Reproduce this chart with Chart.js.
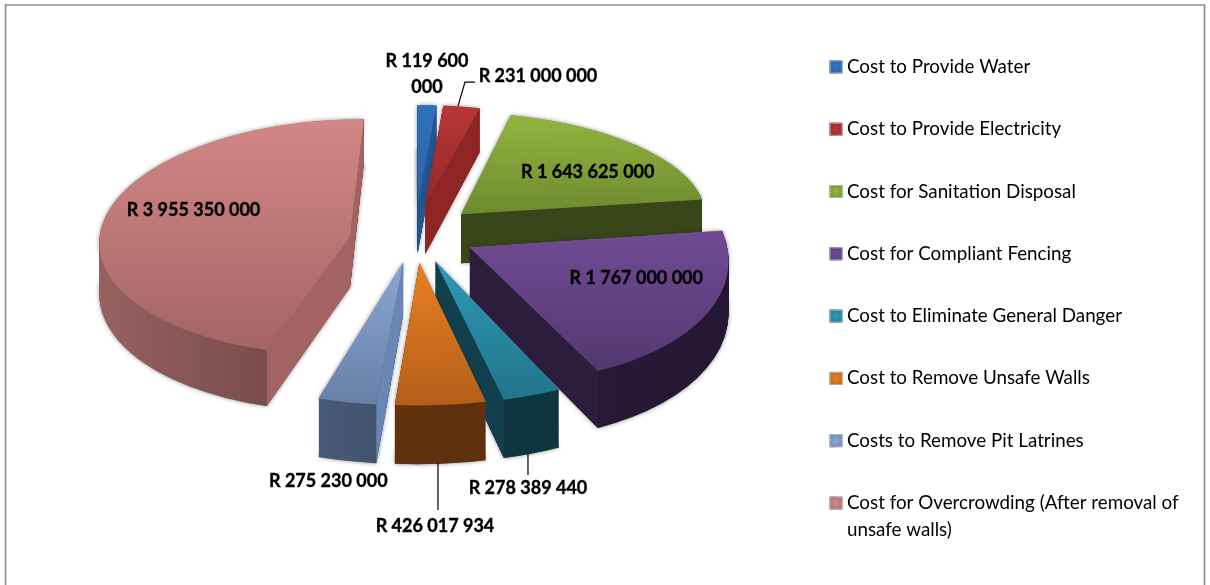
<!DOCTYPE html>
<html><head><meta charset="utf-8">
<style>html,body{margin:0;padding:0;background:#fff}#w{width:1210px;height:585px}</style>
<script src="https://cdn.jsdelivr.net/npm/chart.js@4/dist/chart.umd.min.js"></script>
</head><body><div id="w"><canvas id="c"></canvas></div>
<script>
const categories = [
  "Cost to Provide Water",
  "Cost to Provide Electricity",
  "Cost for Sanitation Disposal",
  "Cost for Compliant Fencing",
  "Cost to Eliminate General Danger",
  "Cost to Remove Unsafe Walls",
  "Costs to Remove Pit Latrines",
  ["Cost for Overcrowding (After removal of", "unsafe walls)"]
];
const costs = [119600000, 231000000, 1643625000, 1767000000, 278389440, 426017934, 275230000, 3955350000];

// styles: [top start, top end, radial wall, curved wall start, curved wall end, legend]
const sliceStyles = [
  ["#2f72bb","#2a62a6","#24568f","#1f4a7c","#1f4a7c","#2c66ad"],
  ["#b83636","#952727","#8e2424","#7a1e1e","#7a1e1e","#a92f2f"],
  ["#93b53f","#6e8a2f","#39461a","#3b4717","#3b4717","#83a436"],
  ["#704b94","#533870","#2d1d3d","#2a1b3a","#241731","#64428a"],
  ["#2d9ab6","#22748b","#123f4d","#0f3540","#0f3540","#2a8aa6"],
  ["#e88023","#b35f19","#5c300f","#60320e","#5e300e","#d9761f"],
  ["#8aa6d2","#6780a8","#6a86b4","#475a78","#3f4f69","#7d99c6"],
  ["#d38686","#a46565","#a36363","#976161","#6e4545","#c97c7c"]
];
const drawOrder = [0, 1, 2, 7, 3, 4, 6, 5];
const view = {cx: 415, cy: 233, a: 254, b: 118, k: 0.12, depth: 50, explode: 0.245};
const labelNudge = [[3.6,-68.5],[90,-67.6],[22,1],[24,-6],[37.5,150.4],[3.5,182.4],[-43,139],[-12,-9]];
const leaders = {1: [[10,-37.6],[17,-61.6],[27,-61.6]], 4: [[37.5,115.4],[37.5,137.4]], 5: [[6.5,119.4],[6.5,166.4]]};
const labelLines = {0: ["R 119 600", "000"]};
const legendAt = {left: 829.6, firstRowTop: 14};

const fmt = v => "R " + String(v).replace(/\B(?=(\d{3})+(?!\d))/g, " ");
const project = (X, Y, t) => { const w = 1 - view.k * Y;
  return [view.cx + view.a * X / w, view.cy + (view.b * Y + view.depth * t) / w]; };

function solve3(M, r) {
  const A = M.map((row, i) => [...row, r[i]]);
  for (let i = 0; i < 3; i++) {
    let p = i; for (let j = i + 1; j < 3; j++) if (Math.abs(A[j][i]) > Math.abs(A[p][i])) p = j;
    [A[i], A[p]] = [A[p], A[i]];
    for (let j = 0; j < 3; j++) if (j !== i) { const f = A[j][i] / A[i][i];
      for (let c = i; c < 4; c++) A[j][c] -= f * A[i][c]; }
  }
  return [A[0][3] / A[0][0], A[1][3] / A[1][1], A[2][3] / A[2][2]];
}
function geom(arc) {
  const mid = (arc.startAngle + arc.endAngle) / 2;
  return {mid, ex: view.explode * Math.cos(mid), ey: view.explode * Math.sin(mid)};
}
function fit(arc, t) {
  const g = geom(arc), S = [[0, 0, 14]];
  const n = 8;
  for (let i = 0; i <= n; i++) {
    const th = arc.startAngle + (arc.endAngle - arc.startAngle) * i / n;
    S.push([Math.cos(th), Math.sin(th), (i === 0 || i === n) ? 12 : 1]);
  }
  const M = [[0,0,0],[0,0,0],[0,0,0]], rx = [0,0,0], ry = [0,0,0];
  for (const [u, v, wt] of S) {
    const [sx, sy] = project(u + g.ex, v + g.ey, t), row = [u, v, 1];
    for (let i = 0; i < 3; i++) {
      rx[i] += wt * row[i] * sx; ry[i] += wt * row[i] * sy;
      for (let j = 0; j < 3; j++) M[i][j] += wt * row[i] * row[j];
    }
  }
  const px = solve3(M, rx), py = solve3(M, ry), R = arc.outerRadius;
  return [px[0] / R, py[0] / R, px[1] / R, py[1] / R,
          px[2] - (px[0] * arc.x + px[1] * arc.y) / R,
          py[2] - (py[0] * arc.x + py[1] * arc.y) / R];
}
const applyM = (m, x, y) => [m[0] * x + m[2] * y + m[4], m[1] * x + m[3] * y + m[5]];
function drawArcWith(ctx, arc, t, fill, extra) {
  const el = Object.create(arc);
  el.options = Object.assign({}, arc.options, {backgroundColor: fill, borderWidth: 0, offset: 0}, extra || {});
  ctx.save();
  ctx.transform(...fit(arc, t));
  el.draw(ctx);
  ctx.restore();
}
function sectorBounds(arc) {
  const R = arc.outerRadius; let xs = [arc.x], ys = [arc.y];
  for (let i = 0; i <= 12; i++) { const th = arc.startAngle + (arc.endAngle - arc.startAngle) * i / 12;
    xs.push(arc.x + R * Math.cos(th)); ys.push(arc.y + R * Math.sin(th)); }
  return {x0: Math.min(...xs), x1: Math.max(...xs), y0: Math.min(...ys), y1: Math.max(...ys)};
}
function drawSlice(ctx, arc, st) {
  const g = geom(arc), B = sectorBounds(arc), R = arc.outerRadius;
  const side = ctx.createLinearGradient(B.x0, 0, B.x1, 0);
  side.addColorStop(0, st[3]); side.addColorStop(1, st[4]);
  const top = ctx.createLinearGradient(0, B.y0, 0, B.y1);
  top.addColorStop(0, st[0]); top.addColorStop(1, st[1]);

  ctx.save();
  ctx.shadowColor = "rgba(40,40,40,0.55)"; ctx.shadowBlur = 4;
  drawArcWith(ctx, arc, 1, "#777");
  drawArcWith(ctx, arc, 0, "#777");
  ctx.restore();

  const layers = 70;
  for (let i = layers; i > 0; i--) drawArcWith(ctx, arc, i / layers, side);

  const m0 = fit(arc, 0), m1 = fit(arc, 1);
  const P = applyM(m0, arc.x, arc.y), Pb = applyM(m1, arc.x, arc.y);
  const M = applyM(m0, arc.x + R * Math.cos(g.mid), arc.y + R * Math.sin(g.mid));
  for (const th of [arc.startAngle, arc.endAngle]) {
    const qx = arc.x + R * Math.cos(th), qy = arc.y + R * Math.sin(th);
    const Q = applyM(m0, qx, qy), Qb = applyM(m1, qx, qy);
    const dx = Q[0] - P[0], dy = Q[1] - P[1];
    const sDown = dx;                                   // cross((dx,dy),(0,1))
    const sIn = dx * (M[1] - P[1]) - dy * (M[0] - P[0]);
    if (Math.sign(sDown) === Math.sign(sIn)) continue;
    ctx.beginPath(); ctx.moveTo(...P); ctx.lineTo(...Q); ctx.lineTo(...Qb); ctx.lineTo(...Pb); ctx.closePath();
    ctx.fillStyle = st[2]; ctx.fill();
  }
  drawArcWith(ctx, arc, 0, top);
}
function drawLabels(ctx, arcs) {
  ctx.save();
  ctx.font = "bold 18px Lato"; ctx.fillStyle = "#000"; ctx.textAlign = "center"; ctx.textBaseline = "middle";
  ctx.strokeStyle = "#000"; ctx.lineWidth = 1.2;
  arcs.forEach((arc, i) => {
    const g = geom(arc);
    const [ax, ay] = project(0.6 * Math.cos(g.mid) + g.ex, 0.6 * Math.sin(g.mid) + g.ey, 0);
    if (leaders[i]) { ctx.beginPath();
      leaders[i].forEach((p, j) => j ? ctx.lineTo(ax + p[0], ay + p[1]) : ctx.moveTo(ax + p[0], ay + p[1]));
      ctx.stroke(); }
    const lines = labelLines[i] || [fmt(costs[i])];
    lines.forEach((s, j) => {
      const lx = ax + labelNudge[i][0], ly = ay + labelNudge[i][1] + (j - (lines.length - 1) / 2) * 26;
      ctx.fillText(s, lx, ly);
      ctx.lineWidth = 0.35; ctx.strokeText(s, lx, ly); ctx.lineWidth = 1.2;
    });
  });
  ctx.restore();
}
const pie3d = {
  id: "pie3d",
  afterUpdate(chart) {
    const l = chart.legend, dx = legendAt.left - l.legendHitBoxes[0].left, dy = legendAt.firstRowTop;
    l.left += dx; l.right += dx; l.top += dy; l.bottom += dy;
    l.legendHitBoxes.forEach(h => { h.left += dx; h.top += dy; });
  },
  beforeDraw(chart) {
    const c = chart.ctx; c.save(); c.fillStyle = "#fff"; c.fillRect(0, 0, chart.width, chart.height);
    c.strokeStyle = "#8e8e8e"; c.lineWidth = 1.6; c.beginPath();
    c.moveTo(5.5, 585); c.lineTo(5.5, 5); c.lineTo(1204.5, 5); c.lineTo(1204.5, 585); c.stroke(); c.restore();
  },
  beforeDatasetsDraw(chart) {
    const arcs = chart.getDatasetMeta(0).data, ctx = chart.ctx;
    drawOrder.forEach(i => drawSlice(ctx, arcs[i], sliceStyles[i]));
    drawLabels(ctx, arcs);
    return false;
  },
  afterDraw(chart) {
    const ctx = chart.ctx;
    chart.legend.legendHitBoxes.forEach((h, i) => {
      const s = 13, x = h.left, y = h.top + (h.height > 30 ? 3 : (h.height - s) / 2), st = sliceStyles[i];
      const gr = ctx.createRadialGradient(x + s / 2, y + s / 2, 1, x + s / 2, y + s / 2, s * 0.7);
      gr.addColorStop(0, st[0]); gr.addColorStop(1, st[1]);
      ctx.save(); ctx.fillStyle = gr; ctx.fillRect(x, y, s, s);
      ctx.strokeStyle = "rgba(190,190,190,0.8)"; ctx.lineWidth = 1; ctx.strokeRect(x + .5, y + .5, s - 1, s - 1);
      ctx.restore();
    });
  }
};
new Chart(document.getElementById("c"), {
  type: "pie",
  data: {labels: categories, datasets: [{data: costs, backgroundColor: sliceStyles.map(s => s[5]), borderWidth: 0}]},
  plugins: [pie3d],
  options: {
    responsive: true, maintainAspectRatio: false, animation: false,
    plugins: {
      tooltip: {enabled: false},
      legend: {position: "right", align: "start",
        labels: {boxWidth: 8, boxHeight: 13, padding: 43.5, color: "#000",
          font: {family: "Lato", size: 18.8, lineHeight: 1.436}}}
    }
  }
});
</script></body></html>
